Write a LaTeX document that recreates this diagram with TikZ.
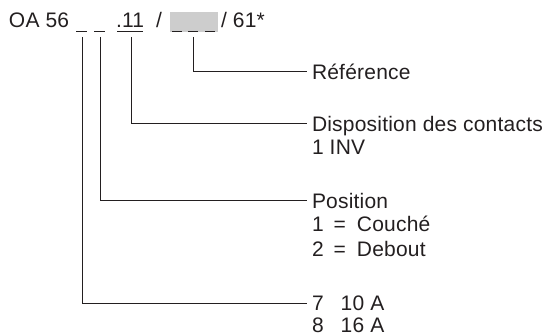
\documentclass[tikz,border=0pt]{standalone}
\usepackage{fontspec}
\setmainfont{Liberation Sans}[LetterSpace=1]
\definecolor{boxgray}{RGB}{205,205,205}
\definecolor{ink}{RGB}{35,31,32}
\begin{document}
\begin{tikzpicture}[x=1pt,y=-1pt,
  every node/.style={inner sep=0pt,outer sep=0pt,text=ink,font=\fontsize{21}{24}\selectfont},
  lbl/.style={anchor=base west},
  conn/.style={draw=ink,line width=1pt},
  uline/.style={draw=ink,line width=1pt}]
\useasboundingbox (0,0) rectangle (545,336);
% title
\fill[boxgray] (170,12) rectangle (218,32);
\node[lbl] (oa) at (9,28) {OA 56};
\node[lbl] (p11) at (116,28) {.11};
\node[lbl] (s1) at (156,28) {/};
\node[lbl] (s2) at (221,28) {/ 61*};
\draw[uline] (76,32) -- (87,32);
\draw[uline] (94,32) -- (105,32);
\draw[uline] (117,32) -- (143,32);
\draw[uline] (172,32) -- (182,32);
\draw[uline] (188,32) -- (198,32);
\draw[uline] (205,32) -- (215,32);
\coordinate (a) at (82,37);
\coordinate (b) at (100,37);
\coordinate (c) at (131,37);
\coordinate (d) at (193,37);
% labels
\node[lbl] (ref) at (312,79.5) {Référence};
\node[lbl] (disp) at (312,131.5) {Disposition des contacts};
\node[lbl] (inv) at (312,155) {1 INV};
\node[lbl] (pos) at (312,208.5) {Position};
\node[lbl] (pos1) at (312,232) {1\hspace{10pt}=\hspace{11pt}Couché};
\node[lbl] (pos2) at (312,256) {2\hspace{10pt}=\hspace{11pt}Debout};
\node[lbl] (amp1) at (312,310) {7\hspace{17pt}10 A};
\node[lbl] (amp2) at (312,332.5) {8\hspace{17pt}16 A};
\coordinate (eref) at (307,72);
\coordinate (edisp) at (307,124);
\coordinate (epos) at (307,201);
\coordinate (eamp) at (307,303);
% connectors
\draw[conn] (d) |- (eref);
\draw[conn] (c) |- (edisp);
\draw[conn] (b) |- (epos);
\draw[conn] (a) |- (eamp);
\end{tikzpicture}
\end{document}
